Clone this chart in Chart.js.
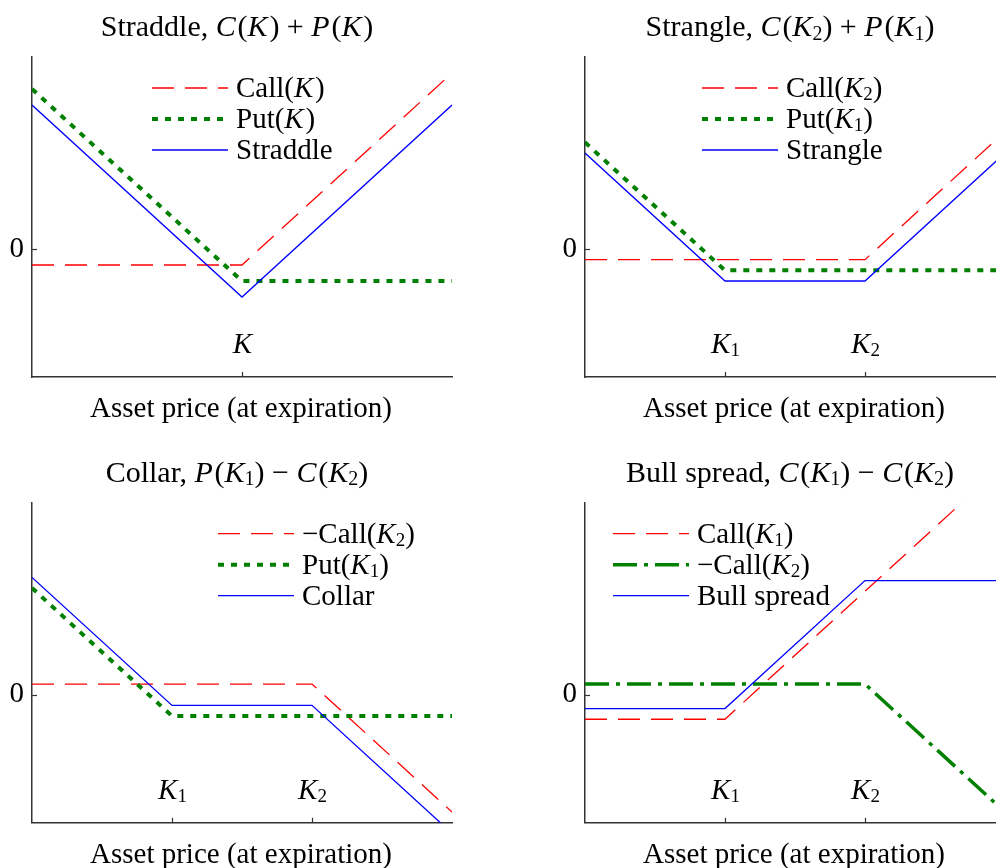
<!DOCTYPE html>
<html>
<head>
<meta charset="utf-8">
<title>Option strategies at expiration</title>
<script src="https://cdn.jsdelivr.net/npm/chart.js@4.4.1/dist/chart.umd.min.js"></script>
<style>
  html, body { margin: 0; padding: 0; background: #fff; overflow: hidden; width: 996px; height: 868px; }
  .panel { position: absolute; }
  canvas { display: block; }
</style>
</head>
<body>
<div class="panel" style="left:0;top:0"><canvas id="straddle" width="498" height="434"></canvas></div>
<div class="panel" style="left:498px;top:0"><canvas id="strangle" width="520" height="434"></canvas></div>
<div class="panel" style="left:0;top:434px"><canvas id="collar" width="498" height="434"></canvas></div>
<div class="panel" style="left:498px;top:434px"><canvas id="bull" width="520" height="434"></canvas></div>
<script>
// Net payoff at expiration (payoff minus premium), sampled at the kinks.
// Asset price axis: strikes sit at 1 (and 2); units are arbitrary.

// Straddle, C(K) + P(K)
const straddlePrice = [0, 1, 2];
const straddleCall  = [-1, -1, 11];
const straddlePut   = [10, -2, -2];
const straddleNet   = [9, -3, 9];
const straddleStrikes = [1];
const straddleStrikeLabels = ['$K$'];

// Strangle, C(K2) + P(K1)
const stranglePrice = [0, 1, 2, 3];
const strangleCall  = [-1, -1, -1, 11];
const stranglePut   = [10, -2, -2, -2];
const strangleNet   = [9, -3, -3, 9];

// Collar, P(K1) - C(K2)
const collarPrice     = [0, 1, 2, 3];
const collarShortCall = [1, 1, 1, -11];
const collarPut       = [10, -2, -2, -2];
const collarNet       = [11, -1, -1, -13];

// Bull spread, C(K1) - C(K2)
const bullPrice     = [0, 1, 2, 3];
const bullLongCall  = [-2.3, -2.3, 9.7, 21.7];
const bullShortCall = [1, 1, 1, -11];
const bullNet       = [-1.3, -1.3, 10.7, 10.7];

const twoStrikes = [1, 2];
const twoStrikeLabels = ['$K_1$', '$K_2$'];

const FONT = 'Liberation Serif';
const FS = 29;        // labels, legend, axis text
const FS_TITLE = 30;  // panel titles
const AXIS = '#333333';
const RED = '#ff0000', GREEN = '#008000', BLUE = '#0000ff';

// --- tiny "$math$" text renderer: letters in math are italic, _d is a subscript ---
function parseRich(str) {
  const runs = [];
  let math = false;
  for (let i = 0; i < str.length; i++) {
    const ch = str[i];
    if (ch === '$') { math = !math; continue; }
    let style;
    let t = ch;
    if (math && ch === '_') { style = 'sub'; t = str[++i]; }
    else style = (math && /[A-Za-z]/.test(ch)) ? 'it' : 'rm';
    const last = runs[runs.length - 1];
    if (last && last.style === style && style !== 'sub') last.t += t;
    else runs.push({ t, style });
  }
  return runs;
}
function fontFor(style, size) {
  if (style === 'it') return `italic ${size}px "${FONT}"`;
  if (style === 'sub') return `${Math.round(size * 0.66)}px "${FONT}"`;
  return `${size}px "${FONT}"`;
}
function drawRich(ctx, str, x, y, align, size) {
  const runs = parseRich(str);
  let w = 0;
  runs.forEach((r, i) => {
    ctx.font = fontFor(r.style, size);
    r.w = ctx.measureText(r.t).width;
    // italic correction before an upright glyph
    if (r.style === 'it' && runs[i + 1] && runs[i + 1].style === 'rm') r.w += size * 0.06;
    w += r.w;
  });
  let cx = align === 'center' ? x - w / 2 : (align === 'right' ? x - w : x);
  ctx.textAlign = 'left';
  ctx.textBaseline = 'alphabetic';
  runs.forEach(r => {
    ctx.font = fontFor(r.style, size);
    ctx.fillText(r.t, cx, y + (r.style === 'sub' ? size * 0.12 : 0));
    cx += r.w;
  });
}

// Titles, strike labels, inward tick marks and the legend.
const payoffDecor = {
  id: 'payoffDecor',
  afterDraw(chart, args, opts) {
    const { ctx, chartArea: a, scales: { x, y } } = chart;
    const cx = (a.left + a.right) / 2;
    ctx.save();
    ctx.fillStyle = '#000';
    drawRich(ctx, opts.title, cx - 5, a.top - 21, 'center', FS_TITLE);
    drawRich(ctx, opts.xTitle, cx - 1, a.bottom + 40, 'center', FS);

    ctx.strokeStyle = AXIS;
    ctx.lineWidth = 1.2;
    opts.strikes.forEach((k, i) => {
      const px = Math.round(x.getPixelForValue(k)) + 0.5;
      ctx.beginPath(); ctx.moveTo(px, a.bottom); ctx.lineTo(px, a.bottom - 5); ctx.stroke();
      drawRich(ctx, opts.strikeLabels[i], px, a.bottom - 24, 'center', FS);
    });
    const py = Math.round(y.getPixelForValue(0)) + 0.5;
    ctx.beginPath(); ctx.moveTo(a.left, py); ctx.lineTo(a.left + 5, py); ctx.stroke();

    const lg = opts.legend;
    chart.data.datasets.forEach((ds, i) => {
      const lx = a.left + lg.x;
      const ly = a.top + lg.y + i * 31;
      ctx.save();
      ctx.strokeStyle = ds.borderColor;
      ctx.lineWidth = ds.borderWidth;
      ctx.setLineDash(ds.borderDash || []);
      ctx.lineCap = 'butt';
      ctx.beginPath(); ctx.moveTo(lx, ly); ctx.lineTo(lx + 76, ly); ctx.stroke();
      ctx.restore();
      drawRich(ctx, ds.label, lx + 84, ly + 9, 'left', FS);
    });
    ctx.restore();
  }
};

function makeChart(id, cfg) {
  const datasets = cfg.series.map(s => ({
    label: s.label,
    data: cfg.price.map((p, i) => ({ x: p, y: s.values[i] })),
    borderColor: s.color,
    borderWidth: s.width,
    borderDash: s.dash,
    order: s.order,
    pointRadius: 0,
    tension: 0,
    fill: false,
    borderCapStyle: 'butt',
    borderJoinStyle: 'miter'
  }));
  return new Chart(document.getElementById(id), {
    type: 'line',
    data: { datasets },
    options: {
      responsive: false,
      animation: false,
      events: [],
      layout: { padding: { top: cfg.box.top, right: cfg.box.right, left: 0, bottom: 0 } },
      plugins: {
        legend: { display: false },
        tooltip: { enabled: false },
        payoffDecor: {
          title: cfg.title,
          xTitle: 'Asset price (at expiration)',
          strikes: cfg.strikes,
          strikeLabels: cfg.strikeLabels,
          legend: cfg.legend
        }
      },
      scales: {
        x: {
          type: 'linear', min: cfg.xMin, max: cfg.xMax,
          grid: { display: false, drawTicks: false },
          ticks: { display: false },
          border: { display: true, color: AXIS, width: 1.5 },
          afterFit: s => { s.height = cfg.box.bottom; }
        },
        y: {
          type: 'linear', min: cfg.yMin, max: cfg.yMax,
          grid: { display: false, drawTicks: false },
          border: { display: true, color: AXIS, width: 1.5 },
          ticks: {
            padding: 8, color: '#000',
            font: { family: FONT, size: FS },
            callback: v => (v === 0 ? '0' : '')
          },
          afterBuildTicks: s => { s.ticks = [{ value: 0 }]; },
          afterFit: s => { s.width = cfg.box.left; }
        }
      }
    },
    plugins: [payoffDecor]
  });
}

const dashed = [22, 11];
const dotted = [6, 7];
const dashDot = [24, 7, 4, 7];

makeChart('straddle', {
  title: 'Straddle, $C(K) + P(K)$',
  price: straddlePrice, xMin: 0, xMax: 2, yMin: -8, yMax: 12,
  strikes: straddleStrikes, strikeLabels: straddleStrikeLabels,
  box: { left: 32, top: 57, right: 46, bottom: 57 },
  legend: { x: 120, y: 31 },
  series: [
    { label: 'Call($K$)', values: straddleCall, color: RED, width: 1.3, dash: dashed, order: 2 },
    { label: 'Put($K$)', values: straddlePut, color: GREEN, width: 4, dash: dotted, order: 1 },
    { label: 'Straddle', values: straddleNet, color: BLUE, width: 1.3, dash: [], order: 0 }
  ]
});

makeChart('strangle', {
  title: 'Strangle, $C(K_2) + P(K_1)$',
  price: stranglePrice, xMin: 0, xMax: 3, yMin: -12, yMax: 18,
  strikes: twoStrikes, strikeLabels: twoStrikeLabels,
  box: { left: 87, top: 57, right: 13, bottom: 57 },
  legend: { x: 117, y: 31 },
  series: [
    { label: 'Call($K_2$)', values: strangleCall, color: RED, width: 1.3, dash: dashed, order: 2 },
    { label: 'Put($K_1$)', values: stranglePut, color: GREEN, width: 4, dash: dotted, order: 1 },
    { label: 'Strangle', values: strangleNet, color: BLUE, width: 1.3, dash: [], order: 0 }
  ]
});

makeChart('collar', {
  title: 'Collar, $P(K_1) \u2212 C(K_2)$',
  price: collarPrice, xMin: 0, xMax: 3, yMin: -12, yMax: 18,
  strikes: twoStrikes, strikeLabels: twoStrikeLabels,
  box: { left: 32, top: 68.7, right: 46, bottom: 45.3 },
  legend: { x: 186, y: 31 },
  series: [
    { label: '\u2212Call($K_2$)', values: collarShortCall, color: RED, width: 1.3, dash: dashed, order: 2 },
    { label: 'Put($K_1$)', values: collarPut, color: GREEN, width: 4, dash: dotted, order: 1 },
    { label: 'Collar', values: collarNet, color: BLUE, width: 1.3, dash: [], order: 0 }
  ]
});

makeChart('bull', {
  title: 'Bull spread, $C(K_1) \u2212 C(K_2)$',
  price: bullPrice, xMin: 0, xMax: 3, yMin: -12, yMax: 18,
  strikes: twoStrikes, strikeLabels: twoStrikeLabels,
  box: { left: 87, top: 68.7, right: 13, bottom: 45.3 },
  legend: { x: 28, y: 31 },
  series: [
    { label: 'Call($K_1$)', values: bullLongCall, color: RED, width: 1.3, dash: dashed, order: 2 },
    { label: '\u2212Call($K_2$)', values: bullShortCall, color: GREEN, width: 3.5, dash: dashDot, order: 1 },
    { label: 'Bull spread', values: bullNet, color: BLUE, width: 1.3, dash: [], order: 0 }
  ]
});
</script>
</body>
</html>
